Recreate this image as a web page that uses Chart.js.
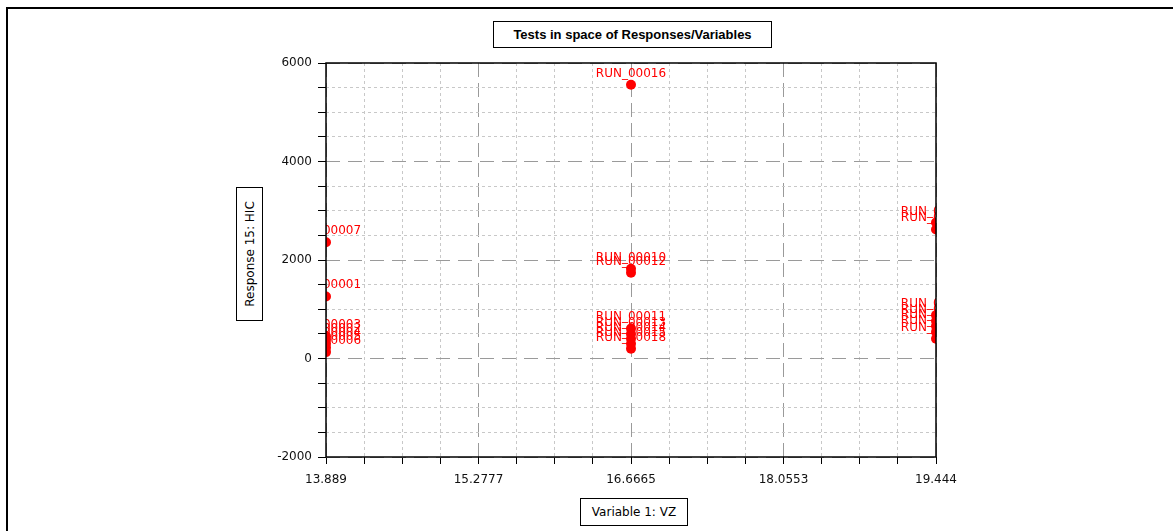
<!DOCTYPE html>
<html>
<head>
<meta charset="utf-8">
<script src="https://cdn.jsdelivr.net/npm/chart.js@4"></script>
<style>
html,body{margin:0;padding:0;background:#fff;width:1173px;height:531px;overflow:hidden;}
#frame{position:absolute;left:6px;top:7px;width:1200px;height:560px;border-left:2px solid #000;border-top:2px solid #000;}
#c{position:absolute;left:0;top:0;}
.box{position:absolute;border:1px solid #000;background:#fff;color:#000;display:flex;align-items:center;justify-content:center;box-sizing:border-box;font-family:'DejaVu Sans',sans-serif;font-size:12px;}
#title{left:493px;top:21px;width:279px;height:27px;font-weight:bold;font-family:'Liberation Sans',Arial,sans-serif;font-size:13px;}
#xlab{left:580px;top:498px;width:108px;height:28px;}
#ylab{left:236px;top:187px;width:27px;height:134px;}
#ylab span{transform:rotate(-90deg);white-space:nowrap;display:inline-block;}
</style>
</head>
<body>
<div id="frame"></div>
<canvas id="c" width="1173" height="531"></canvas>
<div class="box" id="title">Tests in space of Responses/Variables</div>
<div class="box" id="xlab">Variable 1: VZ</div>
<div class="box" id="ylab"><span>Response 15: HIC</span></div>
<script>
const xMajorTicks = [13.889, 15.2777, 16.6665, 18.0553, 19.444];
const xTickLabels = ['13.889', '15.2777', '16.6665', '18.0553', '19.444'];
const yMajorTicks = [-2000, 0, 2000, 4000, 6000];
const yTickLabels = ['-2000', '0', '2000', '4000', '6000'];

const runNames = ['RUN_00007','RUN_00001','RUN_00003','RUN_00002','RUN_00004','RUN_00005','RUN_00006',
                  'RUN_00016','RUN_00010','RUN_00012','RUN_00011','RUN_00013','RUN_00014','RUN_00015','RUN_00018',
                  'RUN_00008','RUN_00009','RUN_00017','RUN_00019','RUN_00020','RUN_00021','RUN_00022'];
const runVZ = [13.889,13.889,13.889,13.889,13.889,13.889,13.889,
               16.6665,16.6665,16.6665,16.6665,16.6665,16.6665,16.6665,16.6665,
               19.444,19.444,19.444,19.444,19.444,19.444,19.444];
const runHIC = [2360,1260,450,380,300,220,130,
                5560,1820,1740,610,500,400,300,200,
                2760,2620,880,760,660,540,400];

function subdivide(majors, n){
  const out = [];
  for (let i = 0; i < majors.length - 1; i++) {
    for (let k = 0; k < n; k++) out.push(majors[i] + (majors[i+1]-majors[i]) * k / n);
  }
  out.push(majors[majors.length-1]);
  return out;
}
function isMajor(arr, v){ return arr.some(m => Math.abs(m - v) < 1e-6); }

const runLabels = {
  id: 'runLabels',
  beforeDatasetsDraw(chart){
    const {ctx, chartArea: a} = chart;
    const meta = chart.getDatasetMeta(0);
    ctx.save();
    ctx.beginPath();
    ctx.rect(a.left, a.top, a.right - a.left, a.bottom - a.top);
    ctx.clip();
    ctx.font = '12px "DejaVu Sans", sans-serif';
    ctx.fillStyle = '#ff0000';
    ctx.textAlign = 'center';
    ctx.textBaseline = 'alphabetic';
    meta.data.forEach((el, i) => ctx.fillText(runNames[i], el.x, el.y - 8));
    ctx.restore();
  }
};
const plotBox = {
  id: 'plotBox',
  afterDraw(chart){
    const {ctx, chartArea: a} = chart;
    ctx.save();
    ctx.strokeStyle = '#000';
    ctx.lineWidth = 1.5;
    ctx.strokeRect(a.left, a.top, a.right - a.left, a.bottom - a.top);
    ctx.restore();
  }
};

new Chart(document.getElementById('c'), {
  type: 'scatter',
  data: {
    datasets: [{
      data: runVZ.map((x, i) => ({x: x, y: runHIC[i]})),
      backgroundColor: '#ff0000',
      borderWidth: 0,
      pointRadius: 5,
      clip: 0
    }]
  },
  options: {
    responsive: false,
    devicePixelRatio: 1,
    animation: false,
    layout: {padding: {left: 0, top: 63, right: 237, bottom: 0}},
    plugins: {legend: {display: false}, tooltip: {enabled: false}, title: {display: false}},
    scales: {
      x: {
        type: 'linear',
        min: xMajorTicks[0], max: xMajorTicks[xMajorTicks.length-1],
        afterBuildTicks(s){ s.ticks = subdivide(xMajorTicks, 4).map(v => ({value: v})); },
        afterFit(s){ s.height = 74; },
        ticks: {
          autoSkip: false, maxRotation: 0, padding: 9, color: '#111',
          font: {family: 'DejaVu Sans', size: 12},
          callback(v){ const i = xMajorTicks.findIndex(m => Math.abs(m - v) < 1e-6); return i >= 0 ? xTickLabels[i] : ''; }
        },
        grid: {
          color: c => (c.tick && isMajor(xMajorTicks, c.tick.value)) ? '#9a9a9a' : '#c8c8c8',
          tickColor: '#000', tickLength: 7, lineWidth: 1
        },
        border: {
          display: false,
          dash: c => (c.tick ? (isMajor(xMajorTicks, c.tick.value) ? [14, 6] : [3, 3]) : [])
        }
      },
      y: {
        type: 'linear',
        min: yMajorTicks[0], max: yMajorTicks[yMajorTicks.length-1],
        afterBuildTicks(s){ s.ticks = subdivide(yMajorTicks, 4).map(v => ({value: v})); },
        afterFit(s){ s.width = 326; },
        ticks: {
          autoSkip: false, padding: 6, color: '#111',
          font: {family: 'DejaVu Sans', size: 12},
          callback(v){ const i = yMajorTicks.findIndex(m => Math.abs(m - v) < 1e-6); return i >= 0 ? yTickLabels[i] : ''; }
        },
        grid: {
          color: c => (c.tick && isMajor(yMajorTicks, c.tick.value)) ? '#9a9a9a' : '#c8c8c8',
          tickColor: '#000', tickLength: 8, lineWidth: 1
        },
        border: {
          display: false,
          dash: c => (c.tick ? (isMajor(yMajorTicks, c.tick.value) ? [14, 8] : [3, 3]) : [])
        }
      }
    }
  },
  plugins: [runLabels, plotBox]
});
</script>
</body>
</html>
